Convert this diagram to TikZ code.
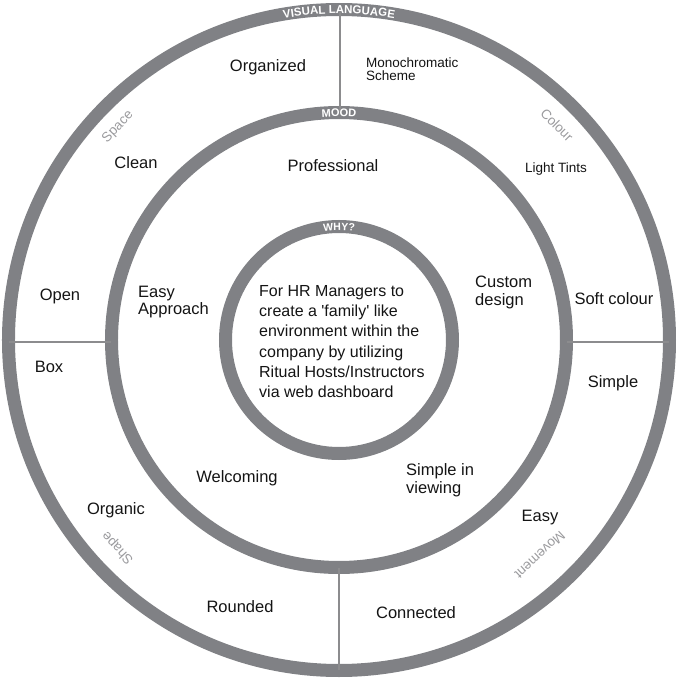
\documentclass[tikz,border=0pt]{standalone}
\usepackage{fontspec}
\setmainfont{Liberation Sans}
\usetikzlibrary{decorations.text}
\definecolor{ringgray}{RGB}{128,129,133}
\definecolor{linegray}{RGB}{140,140,142}
\definecolor{lblgray}{RGB}{155,155,158}
\definecolor{txt}{RGB}{20,20,20}
\begin{document}
\begin{tikzpicture}[x=1pt,y=1pt,
  ring/.style={draw=ringgray,line width=13pt},
  divider/.style={draw=linegray,line width=2pt},
  item/.style={font=\fontsize{16.5}{17.5}\selectfont,text=txt,inner sep=0pt,align=left},
  smallitem/.style={font=\fontsize{13.5}{13}\selectfont,text=txt,inner sep=0pt,align=left},
  sector/.style={font=\fontsize{13.5}{15}\selectfont,text=lblgray,inner sep=0pt},
  ringlabel/.style={decorate,decoration={text along path,text align=center,text color=white}}
]
\useasboundingbox (-339,-338) rectangle (339,340);
\coordinate (c) at (0,0);
% rings
\draw[ring] (c) circle[radius=330.5];
\draw[ring] (c) circle[radius=227.5];
\draw[ring] (c) circle[radius=113.5];
% dividers
\coordinate (t1) at (1,330);  \coordinate (t2) at (1,228);
\coordinate (l1) at (-330,-2); \coordinate (l2) at (-228,-2);
\coordinate (r1) at (330,-2);  \coordinate (r2) at (228,-2);
\coordinate (b1) at (0,-330);  \coordinate (b2) at (0,-228);
\draw[divider] (t1) -- (t2);
\draw[divider] (l1) -- (l2);
\draw[divider] (r1) -- (r2);
\draw[divider] (b1) -- (b2);
% ring labels
\path[ringlabel,decoration={text={|\fontsize{11.5}{12}\selectfont\bfseries|VISUAL LANGUAGE}}]
  (140:326.4) arc[start angle=140,end angle=40,radius=326.4];
\path[ringlabel,decoration={text={|\fontsize{11}{12}\selectfont\bfseries|MOOD}}]
  (140:223.5) arc[start angle=140,end angle=40,radius=223.5];
\path[ringlabel,decoration={text={|\fontsize{10.5}{12}\selectfont\bfseries|WHY?}}]
  (150:109.7) arc[start angle=150,end angle=30,radius=109.7];
% sector labels
\node[sector,rotate=46] (space) at (-221,213) {Space};
\node[sector,rotate=-45] (colour) at (218,215) {Colour};
\node[sector,rotate=133] (shape) at (-221,-208) {Shape};
\node[sector,rotate=223] (movement) at (201,-215) {Movement};
% outer ring items
\node[item] (organized) at (-71,273) {Organized};
\node[smallitem,anchor=west] (mono) at (27,270.5) {Monochromatic\\Scheme};
\node[item] (open) at (-279,44) {Open};
\node[item] (soft) at (275,41) {Soft colour};
\node[item] (box) at (-290,-27) {Box};
\node[item] (simple) at (274,-43) {Simple};
\node[item] (organic) at (-223,-170) {Organic};
\node[item] (easy) at (201,-178) {Easy};
\node[item] (rounded) at (-99,-267) {Rounded};
\node[item] (connected) at (77,-273) {Connected};
% middle ring items
\node[item] (clean) at (-203,177) {Clean};
\node[item] (professional) at (-6,174) {Professional};
\node[smallitem] (tints) at (217,171) {Light Tints};
\node[item,anchor=west] (approach) at (-201,38) {Easy\\Approach};
\node[item,anchor=west] (custom) at (136,47.5) {Custom\\design};
\node[item] (welcoming) at (-102,-138) {Welcoming};
\node[item,anchor=west] (viewing) at (67,-140) {Simple in\\viewing};
% centre
\node[item,anchor=west,font=\fontsize{16}{20.2}\selectfont] (why) at (-80,-1.5)
  {For HR Managers to\\create a \textquotesingle family\textquotesingle\ like\\environment within the\\company by utilizing\\Ritual Hosts/Instructors\\via web dashboard};
\end{tikzpicture}
\end{document}
